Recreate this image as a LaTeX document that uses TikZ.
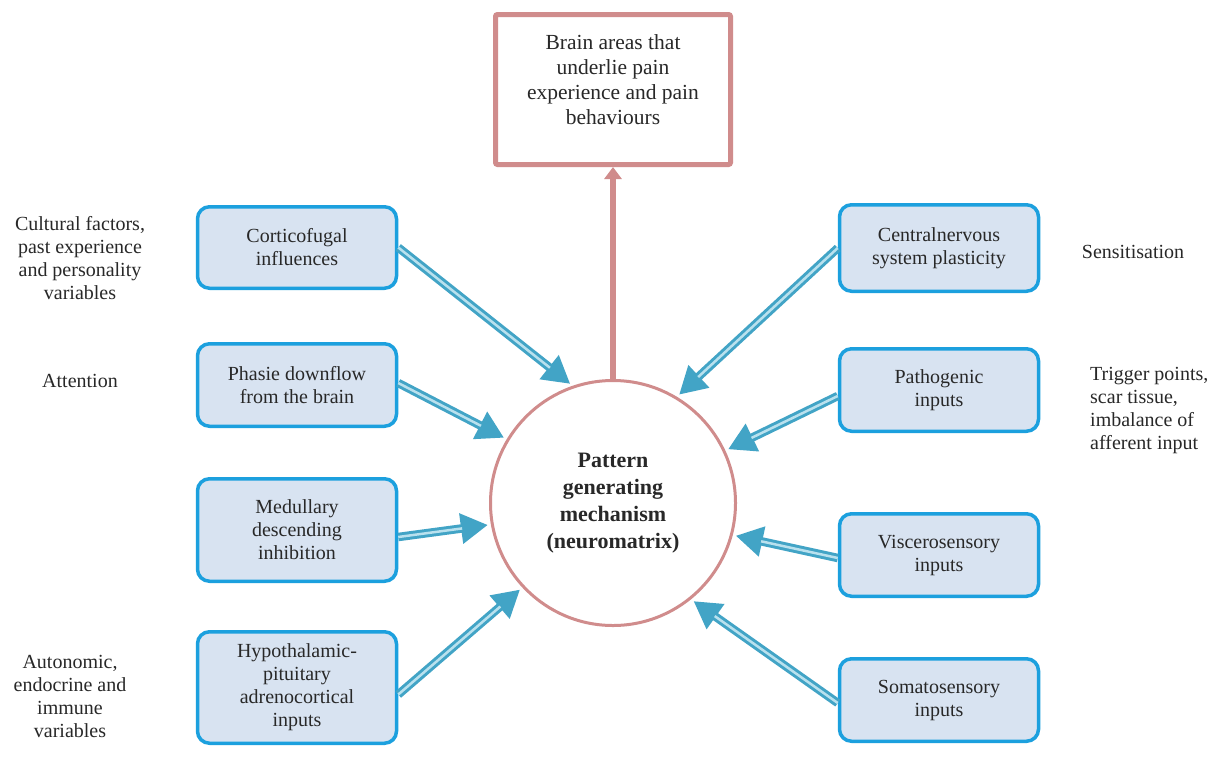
\documentclass[tikz,border=0pt]{standalone}
\usepackage{fontspec}
\setmainfont{Liberation Serif}
\usetikzlibrary{arrows.meta}
\definecolor{ablue}{RGB}{66,164,198}
\definecolor{ainner}{RGB}{185,225,238}
\definecolor{bblue}{RGB}{28,160,222}
\definecolor{bfill}{RGB}{216,227,241}
\definecolor{rose}{RGB}{208,140,140}
\definecolor{txt}{RGB}{40,40,40}
\begin{document}
\begin{tikzpicture}[x=1pt,y=-1pt,
  every node/.style={text=txt},
  inbox/.style={draw=bblue, fill=bfill, line width=3.5pt, rounded corners=12pt,
    minimum width=199pt, align=center, font=\fontsize{20}{23}\selectfont, inner sep=0pt},
  side/.style={align=center, font=\fontsize{20}{23}\selectfont, inner sep=0pt},
  barrow/.style={draw=ablue, line width=8.5pt, -{Triangle[length=27pt,width=29pt]},
    shorten >=3pt, postaction={draw=ainner, line width=2.5pt, -, shorten >=29pt}},
  parrow/.style={draw=rose, line width=6pt, -{Triangle[length=12pt,width=17pt]}}
]
\useasboundingbox (0,0) rectangle (1220,764);
\fill[white] (0,0) rectangle (1220,764);

% top box
\node[draw=rose, line width=5pt, rounded corners=2pt, minimum width=235pt, minimum height=150pt, inner sep=0pt] (top) at (613,89.5) {};
\node[align=center, font=\fontsize{21.5}{25}\selectfont, inner sep=0pt] (toptext) at (613,80)
  {Brain areas that\\underlie pain\\experience and pain\\behaviours};

% centre circle
\node[circle, draw=rose, line width=3pt, minimum size=245pt, inner sep=0pt, align=center,
  font=\fontsize{22}{27}\selectfont\bfseries] (circ) at (613,503)
  {Pattern\\generating\\mechanism\\(neuromatrix)};

% left boxes
\node[inbox, minimum height=81.5pt] (L1) at (297,247.5) {Corticofugal\\influences};
\node[inbox, minimum height=82.5pt] (L2) at (297,385) {Phasie downflow\\from the brain};
\node[inbox, minimum height=102.5pt] (L3) at (297,530) {Medullary\\descending\\inhibition};
\node[inbox, minimum height=111.5pt] (L4) at (297,687.5) {Hypothalamic-\\pituitary\\adrenocortical\\inputs};

% right boxes
\node[inbox, minimum height=86.5pt] (R1) at (939,248) {Centralnervous\\system plasticity};
\node[inbox, minimum height=82.5pt] (R2) at (939,390) {Pathogenic\\inputs};
\node[inbox, minimum height=82.5pt] (R3) at (939,555) {Viscerosensory\\inputs};
\node[inbox, minimum height=82.5pt] (R4) at (939,700) {Somatosensory\\inputs};

% side labels
\node[side] (cult) at (80,258) {Cultural factors,\\past experience\\and personality\\variables};
\node[side] (att) at (80,381) {Attention};
\node[side] (auto) at (70,696) {Autonomic,\\endocrine and\\immune\\variables};
\node[side] (sens) at (1133,252) {Sensitisation};
\node[side, align=left, anchor=west] (trig) at (1090,410) {Trigger points,\\scar tissue,\\imbalance of\\afferent input};

% arrows
\draw[parrow] (circ.north) -- (top.south);
\draw[barrow] (L1.east) -- (circ.109);
\draw[barrow] ([yshift=2pt]L2.east) -- (circ.149);
\draw[barrow] ([yshift=-7pt]L3.east) -- (circ.190);
\draw[barrow] ([yshift=-7pt]L4.east) -- (circ.223);
\draw[barrow] (R1.west) -- (circ.59);
\draw[barrow] ([yshift=-6pt]R2.west) -- (circ.25);
\draw[barrow] ([yshift=-3pt]R3.west) -- (circ.-15);
\draw[barrow] ([yshift=-3pt]R4.west) -- (circ.-51);
\end{tikzpicture}
\end{document}
